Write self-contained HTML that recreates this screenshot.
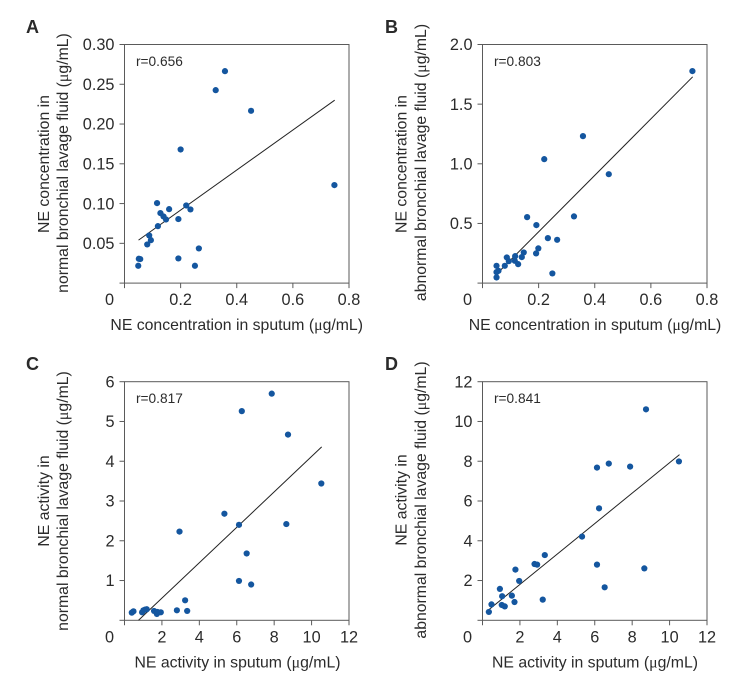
<!DOCTYPE html>
<html lang="en">
<head>
<meta charset="utf-8">
<title>NE concentration and activity correlations</title>
<style>
html,body{margin:0;padding:0;background:#fff;}
#figure{display:block;width:740px;height:692px;font-family:"Liberation Sans",sans-serif;}
.tick-label{font-size:16.3px;fill:#2b2b2b;}
.axis-title{font-size:15.8px;fill:#2b2b2b;text-anchor:middle;}
.r-label{font-size:13.7px;fill:#2b2b2b;}
.panel-letter{font-size:18px;font-weight:bold;fill:#2a2a2a;}
.mu{font-family:"Liberation Serif",serif;}
</style>
</head>
<body>
<svg id="figure" xmlns="http://www.w3.org/2000/svg" width="740" height="692" viewBox="0 0 740 692">
  <rect width="740" height="692" fill="#fff"/>

  <g id="panel-a">
    <text class="panel-letter" x="26" y="33">A</text>
    <text class="r-label" x="136" y="66">r=0.656</text>
    <text class="axis-title" x="236.7" y="330">NE concentration in sputum (<tspan class="mu">μ</tspan>g/mL)</text>
    <text class="axis-title" transform="translate(49,164) rotate(-90)">NE concentration in</text>
    <text class="axis-title" transform="translate(68,163) rotate(-90)">normal bronchial lavage fluid (<tspan class="mu">μ</tspan>g/mL)</text>
  </g>

  <g id="panel-b">
    <text class="panel-letter" x="385" y="33">B</text>
    <text class="r-label" x="494" y="66">r=0.803</text>
    <text class="axis-title" x="595" y="330">NE concentration in sputum (<tspan class="mu">μ</tspan>g/mL)</text>
    <text class="axis-title" transform="translate(406.7,164) rotate(-90)">NE concentration in</text>
    <text class="axis-title" transform="translate(426,162.5) rotate(-90)">abnormal bronchial lavage fluid (<tspan class="mu">μ</tspan>g/mL)</text>
  </g>

  <g id="panel-c">
    <text class="panel-letter" x="26" y="370">C</text>
    <text class="r-label" x="136" y="403">r=0.817</text>
    <text class="axis-title" x="237.5" y="667.5">NE activity in sputum (<tspan class="mu">μ</tspan>g/mL)</text>
    <text class="axis-title" transform="translate(49,501) rotate(-90)">NE activity in</text>
    <text class="axis-title" transform="translate(68,501) rotate(-90)">normal bronchial lavage fluid (<tspan class="mu">μ</tspan>g/mL)</text>
  </g>

  <g id="panel-d">
    <text class="panel-letter" x="385" y="370">D</text>
    <text class="r-label" x="494" y="403">r=0.841</text>
    <text class="axis-title" x="595" y="667.5">NE activity in sputum (<tspan class="mu">μ</tspan>g/mL)</text>
    <text class="axis-title" transform="translate(406.7,500) rotate(-90)">NE activity in</text>
    <text class="axis-title" transform="translate(426,500) rotate(-90)">abnormal bronchial lavage fluid (<tspan class="mu">μ</tspan>g/mL)</text>
  </g>
</svg>
<script>
// Tick labels
const xTicksConcentration = ["0", "0.2", "0.4", "0.6", "0.8"];
const xTicksActivity = ["0", "2", "4", "6", "8", "10", "12"];
const yTicksA = ["0.05", "0.10", "0.15", "0.20", "0.25", "0.30"];
const yTicksB = ["0.5", "1.0", "1.5", "2.0"];
const yTicksC = ["1", "2", "3", "4", "5", "6"];
const yTicksD = ["2", "4", "6", "8", "10", "12"];

// Panel A
const xA = [0.049, 0.051, 0.056, 0.081, 0.088, 0.094, 0.116, 0.119, 0.128, 0.139, 0.148, 0.159, 0.192, 0.200, 0.192, 0.220, 0.235, 0.251, 0.265, 0.325, 0.358, 0.451, 0.748];
const yA = [0.0218, 0.0306, 0.0302, 0.0486, 0.0599, 0.054, 0.1006, 0.0716, 0.088, 0.0838, 0.080, 0.093, 0.0805, 0.168, 0.031, 0.0976, 0.0926, 0.0218, 0.0436, 0.2426, 0.2665, 0.2166, 0.1232];
const fitXA = [0.05, 0.749];
const fitYA = [0.054, 0.230];

// Panel B
const xB = [0.050, 0.050, 0.050, 0.057, 0.0795, 0.0866, 0.0938, 0.1163, 0.115, 0.127, 0.140, 0.147, 0.159, 0.192, 0.191, 0.199, 0.220, 0.233, 0.249, 0.266, 0.326, 0.358, 0.450, 0.748];
const yB = [0.145, 0.092, 0.047, 0.103, 0.145, 0.215, 0.184, 0.226, 0.187, 0.159, 0.218, 0.257, 0.553, 0.486, 0.249, 0.291, 1.039, 0.377, 0.081, 0.363, 0.559, 1.232, 0.913, 1.777];
const fitXB = [0.05, 0.749];
const fitYB = [0.075, 1.729];

// Panel C
const xC = [0.39, 0.48, 0.94, 1.01, 1.10, 1.19, 1.58, 1.73, 1.76, 1.94, 2.80, 3.24, 3.35, 2.94, 5.34, 6.12, 6.12, 6.53, 6.77, 6.27, 7.87, 8.65, 8.74, 10.52];
const yC = [0.193, 0.226, 0.201, 0.251, 0.268, 0.277, 0.235, 0.159, 0.21, 0.201, 0.251, 0.503, 0.235, 2.23, 2.68, 2.40, 0.99, 1.68, 0.90, 5.26, 5.70, 2.42, 4.67, 3.44];
const fitXC = [0.75, 10.54];
const fitYC = [0, 4.36];

// Panel D
const xD = [0.34, 0.48, 0.93, 1.05, 1.03, 1.19, 1.57, 1.71, 1.76, 1.96, 2.78, 2.92, 3.22, 3.33, 5.32, 6.12, 6.12, 6.23, 6.53, 6.75, 7.89, 8.65, 8.74, 10.50];
const yD = [0.42, 0.80, 1.58, 1.21, 0.77, 0.70, 1.24, 0.92, 2.55, 1.98, 2.83, 2.80, 1.04, 3.28, 4.21, 7.68, 2.80, 5.63, 1.66, 7.88, 7.73, 2.61, 10.61, 7.99];
const fitXD = [0.36, 10.53];
const fitYD = [0.55, 8.33];

const SVG_NS = "http://www.w3.org/2000/svg";

function svgEl(parent, tag, attrs) {
  const el = document.createElementNS(SVG_NS, tag);
  for (const k in attrs) el.setAttribute(k, attrs[k]);
  parent.appendChild(el);
  return el;
}

function drawPanel(id, left, top, xTicks, yTicks, xs, ys, fitX, fitY) {
  const width = 224.5, height = 238.6;
  const group = document.getElementById(id);
  const xMax = Number(xTicks[xTicks.length - 1]);
  const yMax = Number(yTicks[yTicks.length - 1]);
  const xScale = v => left + v / xMax * width;
  const yScale = v => top + height - v / yMax * height;
  const bottom = top + height;

  const frame = svgEl(group, "rect", {x: left, y: top, width: width, height: height, fill: "none", stroke: "#5a5a5a", "stroke-width": 1});
  
  

  const originTick = svgEl(group, "line", {x1: left - 5, x2: left, y1: bottom, y2: bottom, stroke: "#5a5a5a", "stroke-width": 1});
  
  

  xTicks.forEach(label => {
    const x = xScale(Number(label));
    const tick = svgEl(group, "line", {x1: x, x2: x, y1: bottom, y2: bottom + 5, stroke: "#5a5a5a", "stroke-width": 1});
    
    
    const text = svgEl(group, "text", {class: "tick-label", x: Number(label) === 0 ? x - 15 : x, y: bottom + 22, "text-anchor": "middle"});
    
    
    text.textContent = label;
  });

  yTicks.forEach(label => {
    const y = yScale(Number(label));
    const tick = svgEl(group, "line", {x1: left - 5, x2: left, y1: y, y2: y, stroke: "#5a5a5a", "stroke-width": 1});
    
    
    const text = svgEl(group, "text", {class: "tick-label", x: left - 10, y: y + 5.7, "text-anchor": "end"});
    
    
    text.textContent = label;
  });

  const fit = svgEl(group, "line", {x1: xScale(fitX[0]), y1: yScale(fitY[0]), x2: xScale(fitX[1]), y2: yScale(fitY[1]), stroke: "#222", "stroke-width": 1});
  
  

  xs.forEach((v, i) => {
    const dot = svgEl(group, "circle", {cx: xScale(v), cy: yScale(ys[i]), r: 3.1, fill: "#14569f"});
    
    
  });
}

drawPanel("panel-a", 124.5, 44.5, xTicksConcentration, yTicksA, xA, yA, fitXA, fitYA);
drawPanel("panel-b", 482.5, 44.5, xTicksConcentration, yTicksB, xB, yB, fitXB, fitYB);
drawPanel("panel-c", 124.5, 381.7, xTicksActivity, yTicksC, xC, yC, fitXC, fitYC);
drawPanel("panel-d", 482.5, 381.7, xTicksActivity, yTicksD, xD, yD, fitXD, fitYD);
</script>
</body>
</html>
